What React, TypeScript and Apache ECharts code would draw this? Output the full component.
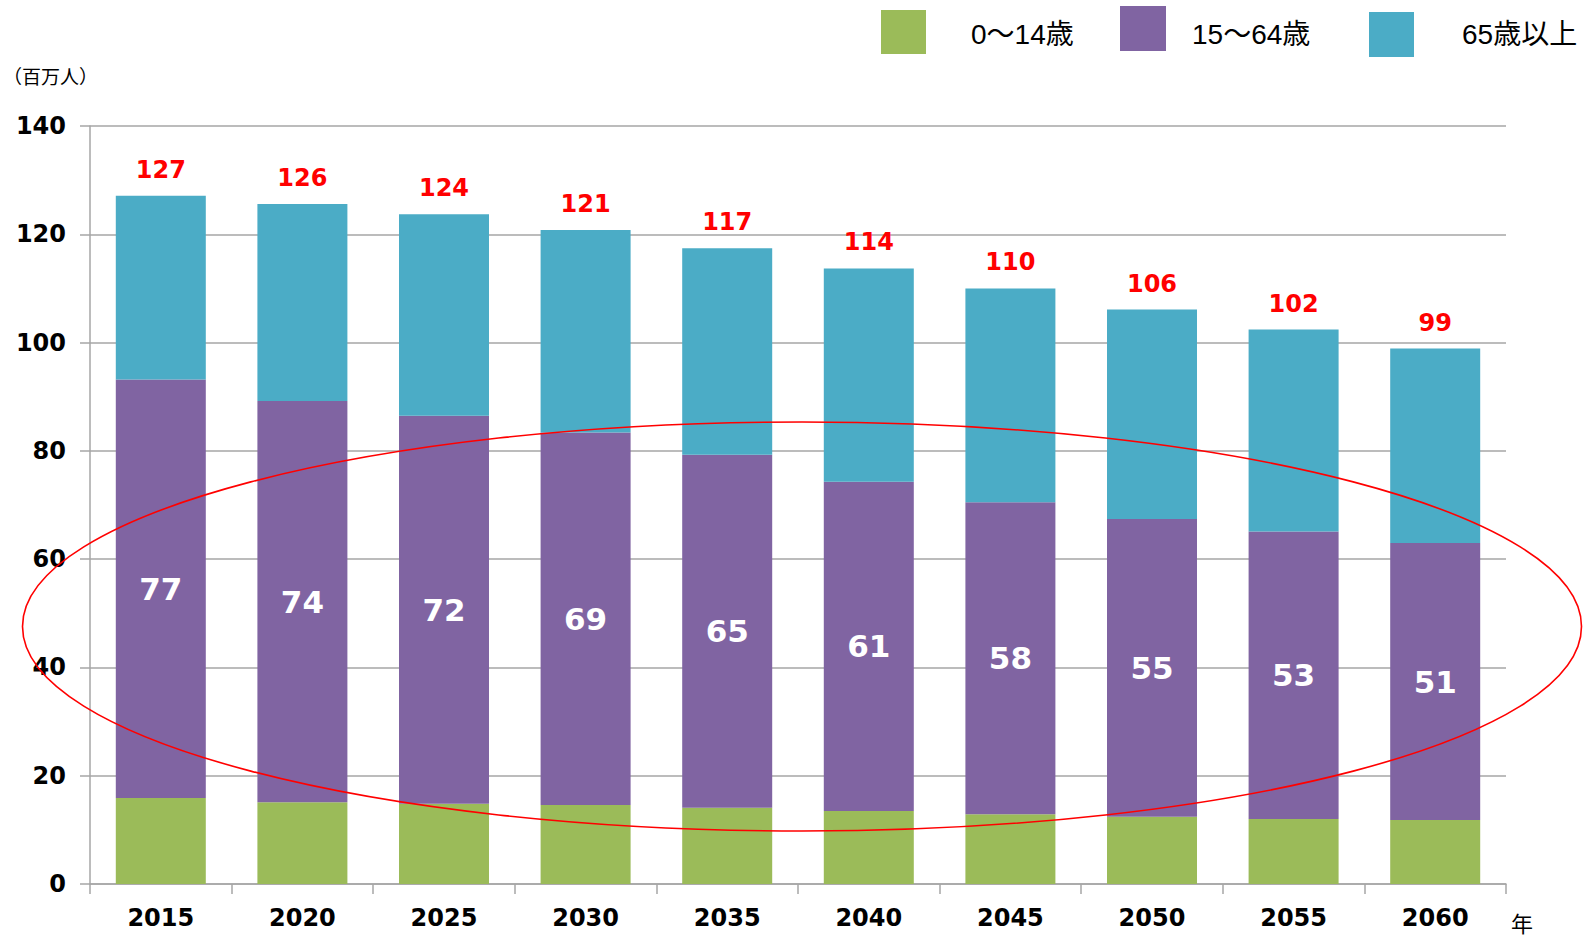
import React, { useEffect, useRef } from "react";
import * as echarts from "echarts";

const years = ["2015", "2020", "2025", "2030", "2035", "2040", "2045", "2050", "2055", "2060"];
const age0to14 = [15.9, 15.1, 14.8, 14.6, 14.1, 13.5, 12.9, 12.4, 12.0, 11.8];
const age15to64 = [77.3, 74.1, 71.7, 68.8, 65.2, 60.8, 57.6, 55.0, 53.1, 51.2];
const age65plus = [33.9, 36.4, 37.2, 37.4, 38.1, 39.4, 39.5, 38.7, 37.3, 35.9];
const totalLabels = ["127", "126", "124", "121", "117", "114", "110", "106", "102", "99"];
const workingLabels = ["77", "74", "72", "69", "65", "61", "58", "55", "53", "51"];
const seriesNames = ["0～14歳", "15～64歳", "65歳以上"];
const colors = ["#9BBB59", "#8064A2", "#4BACC6"];
const yTicks = { min: 0, max: 140, interval: 20 };

const boldFont = "'DejaVu Sans', Verdana, sans-serif";
const cjkFont = "'Liberation Sans', 'Noto Sans CJK JP', sans-serif";

export default function App() {
  const ref = useRef<HTMLDivElement>(null);
  useEffect(() => {
    if (!ref.current) return;
    const chart = echarts.init(ref.current, null, { renderer: "svg" });
    const legendRects = [
      { x: 881, y: 10, w: 45, h: 44, c: colors[0], tx: 971, name: seriesNames[0] },
      { x: 1120, y: 6, w: 46, h: 45, c: colors[1], tx: 1192, name: seriesNames[1] },
      { x: 1369, y: 12, w: 45, h: 45, c: colors[2], tx: 1462, name: seriesNames[2] },
    ];
    const graphic: any[] = [];
    legendRects.forEach((l) => {
      graphic.push({
        type: "rect",
        shape: { x: l.x, y: l.y, width: l.w, height: l.h },
        style: { fill: l.c },
      });
      graphic.push({
        type: "text",
        x: l.tx,
        y: 34,
        style: {
          text: l.name,
          fontSize: 28,
          fontFamily: cjkFont,
          fill: "#000",
          verticalAlign: "middle",
          align: "left",
        },
      });
    });
    graphic.push({
      type: "text",
      x: 3,
      y: 75,
      style: {
        text: "（百万人）",
        fontSize: 19,
        fontFamily: "'Noto Sans CJK JP', sans-serif",
        fill: "#000",
        verticalAlign: "middle",
      },
    });
    graphic.push({
      type: "text",
      x: 1522,
      y: 922,
      style: {
        text: "年",
        fontSize: 22,
        fontFamily: "'Noto Sans CJK JP', sans-serif",
        fill: "#000",
        align: "center",
        verticalAlign: "middle",
      },
    });
    graphic.push({
      type: "ellipse",
      shape: { cx: 802, cy: 626.5, rx: 779.5, ry: 204.5 },
      style: { fill: "none", stroke: "#FF0000", lineWidth: 1.6 },
      z: 100,
    });

    chart.setOption({
      animation: false,
      grid: { left: 90, right: 89, top: 126, bottom: 53, containLabel: false },
      xAxis: {
        type: "category",
        data: years,
        boundaryGap: true,
        axisLine: { lineStyle: { color: "#A6A6A6", width: 1.5 } },
        axisTick: { show: true, length: 10, alignWithLabel: false, lineStyle: { color: "#A6A6A6", width: 1.5 } },
        axisLabel: {
          fontSize: 24,
          fontWeight: "bold",
          fontFamily: boldFont,
          color: "#000",
          margin: 22,
        },
      },
      yAxis: {
        type: "value",
        min: yTicks.min,
        max: yTicks.max,
        interval: yTicks.interval,
        axisLine: { show: true, lineStyle: { color: "#A6A6A6", width: 1.5 } },
        axisTick: { show: true, length: 10, lineStyle: { color: "#A6A6A6", width: 1.5 } },
        splitLine: { show: true, lineStyle: { color: "#A6A6A6", width: 1.5 } },
        axisLabel: {
          fontSize: 24,
          fontWeight: "bold",
          fontFamily: boldFont,
          color: "#000",
          margin: 24,
        },
      },
      graphic,
      series: [
        {
          name: seriesNames[0],
          type: "bar",
          stack: "pop",
          barWidth: 90,
          data: age0to14,
          itemStyle: { color: colors[0] },
        },
        {
          name: seriesNames[1],
          type: "bar",
          stack: "pop",
          barWidth: 90,
          data: age15to64,
          itemStyle: { color: colors[1] },
          label: {
            show: true,
            position: "inside",
            formatter: (p: any) => workingLabels[p.dataIndex],
            fontSize: 31,
            fontWeight: "bold",
            fontFamily: boldFont,
            color: "#fff",
          },
        },
        {
          name: seriesNames[2],
          type: "bar",
          stack: "pop",
          barWidth: 90,
          data: age65plus,
          itemStyle: { color: colors[2] },
          label: {
            show: true,
            position: "top",
            distance: 14,
            formatter: (p: any) => totalLabels[p.dataIndex],
            fontSize: 24,
            fontWeight: "bold",
            fontFamily: boldFont,
            color: "#FF0000",
          },
        },
      ],
    });
    return () => chart.dispose();
  }, []);
  return (
    <div
      ref={ref}
      style={{ position: "fixed", left: 0, top: 0, width: 1595, height: 937, background: "#fff" }}
    />
  );
}
